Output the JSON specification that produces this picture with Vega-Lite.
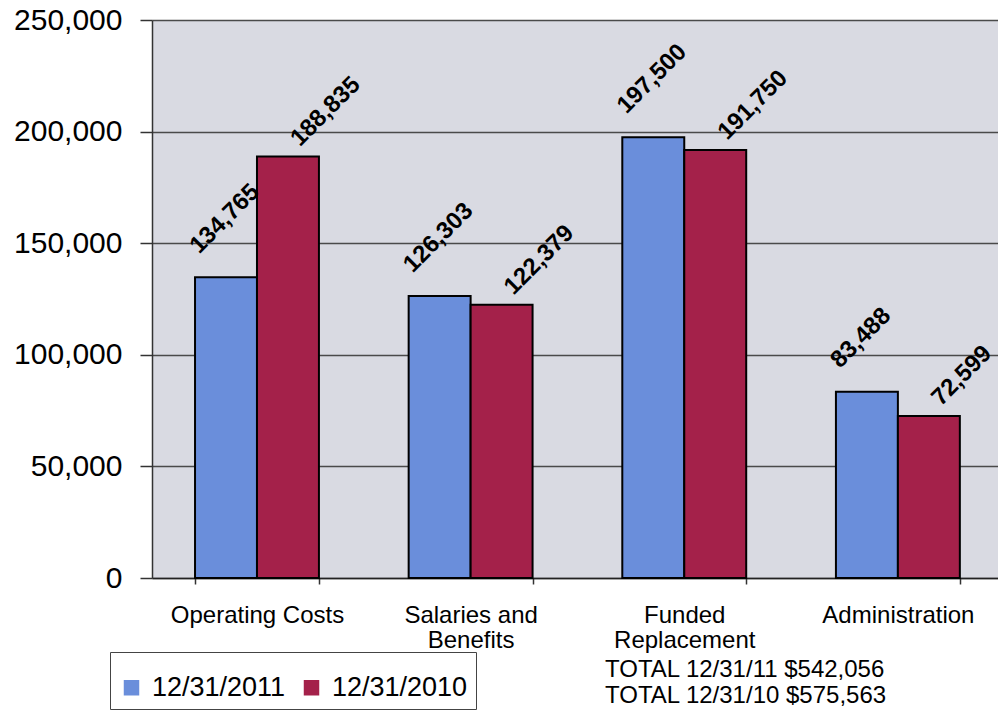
{
  "$schema": "https://vega.github.io/schema/vega-lite/v6.json",
  "autosize": {"type": "none"},
  "width": 846,
  "height": 558,
  "padding": {"left": 152, "top": 20, "right": 0, "bottom": 147},
  "background": "white",
  "config": {
    "font": "Liberation Sans",
    "view": {"fill": "#d9dae2", "stroke": null}
  },
  "title": {
    "text": ["TOTAL 12/31/11 $542,056", "TOTAL 12/31/10 $575,563"],
    "orient": "bottom",
    "anchor": "start",
    "frame": "group",
    "dx": 453,
    "dy": -56,
    "offset": 4,
    "font": "Liberation Sans",
    "fontSize": 24,
    "fontWeight": "normal",
    "lineHeight": 26,
    "color": "black"
  },
  "data": {
    "values": [
      {"category": "Operating Costs", "period": "12/31/2011", "amount": 134765},
      {"category": "Operating Costs", "period": "12/31/2010", "amount": 188835},
      {"category": "Salaries and Benefits", "period": "12/31/2011", "amount": 126303},
      {"category": "Salaries and Benefits", "period": "12/31/2010", "amount": 122379},
      {"category": "Funded Replacement", "period": "12/31/2011", "amount": 197500},
      {"category": "Funded Replacement", "period": "12/31/2010", "amount": 191750},
      {"category": "Administration", "period": "12/31/2011", "amount": 83488},
      {"category": "Administration", "period": "12/31/2010", "amount": 72599}
    ]
  },
  "encoding": {
    "x": {
      "field": "category",
      "type": "nominal",
      "sort": ["Operating Costs", "Salaries and Benefits", "Funded Replacement", "Administration"],
      "scale": {"paddingInner": 0.42, "paddingOuter": 0.19, "align": 0.53},
      "axis": {
        "title": null,
        "labelAngle": 0,
        "labelFontSize": 24,
        "labelColor": "black",
        "labelLineHeight": 25,
        "labelPadding": 19,
        "labelBaseline": "top",
        "labelExpr": "datum.label == 'Salaries and Benefits' ? ['Salaries and', 'Benefits'] : datum.label == 'Funded Replacement' ? ['Funded', 'Replacement'] : datum.label",
        "tickBand": "extent",
        "tickSize": 6,
        "tickColor": "#333",
        "tickWidth": 1.5,
        "domainColor": "#222",
        "domainWidth": 1.5
      }
    },
    "xOffset": {
      "field": "period",
      "type": "nominal",
      "sort": ["12/31/2011", "12/31/2010"]
    },
    "y": {
      "field": "amount",
      "type": "quantitative",
      "scale": {"domain": [0, 250000], "nice": false},
      "axis": {
        "title": null,
        "values": [0, 50000, 100000, 150000, 200000, 250000],
        "format": ",d",
        "labelFontSize": 30,
        "labelColor": "black",
        "labelPadding": 18,
        "tickSize": 12,
        "tickColor": "#333",
        "tickWidth": 1.5,
        "domainColor": "#333",
        "domainWidth": 1.5,
        "grid": true,
        "gridColor": "#4a4a4a",
        "gridWidth": 1.5
      }
    }
  },
  "layer": [
    {
      "mark": {"type": "bar", "stroke": "black", "strokeWidth": 2},
      "encoding": {
        "color": {
          "field": "period",
          "type": "nominal",
          "scale": {"domain": ["12/31/2011", "12/31/2010"], "range": ["#6a8edb", "#a4214a"]},
          "legend": {
            "title": " ",
            "titleFontSize": 8,
            "titlePadding": 6,
            "orient": "none",
            "legendX": -42,
            "legendY": 632,
            "direction": "horizontal",
            "padding": 8,
            "strokeColor": "#444",
            "fillColor": "white",
            "symbolType": "square",
            "symbolSize": 240,
            "symbolStrokeWidth": 0,
            "labelFontSize": 27,
            "labelColor": "black",
            "labelOffset": 7,
            "columnPadding": 12,
            "encode": {
              "symbols": {
                "update": {
                  "fill": {"signal": "datum.value === '12/31/2011' ? '#3f5391' : '#761b3a'"},
                  "opacity": {"value": 1}
                }
              }
            }
          }
        }
      }
    },
    {
      "transform": [{"filter": "datum.period === '12/31/2011'"}],
      "mark": {
        "type": "text",
        "angle": 315,
        "align": "left",
        "baseline": "alphabetic",
        "dx": -3,
        "dy": -35,
        "fontSize": 24,
        "fontWeight": "bold",
        "color": "black"
      },
      "encoding": {
        "text": {"field": "amount", "type": "quantitative", "format": ","}
      }
    },
    {
      "transform": [{"filter": "datum.period === '12/31/2010'"}],
      "mark": {
        "type": "text",
        "angle": 315,
        "align": "left",
        "baseline": "alphabetic",
        "dx": 15,
        "dy": 2,
        "fontSize": 24,
        "fontWeight": "bold",
        "color": "black"
      },
      "encoding": {
        "text": {"field": "amount", "type": "quantitative", "format": ","}
      }
    }
  ]
}
